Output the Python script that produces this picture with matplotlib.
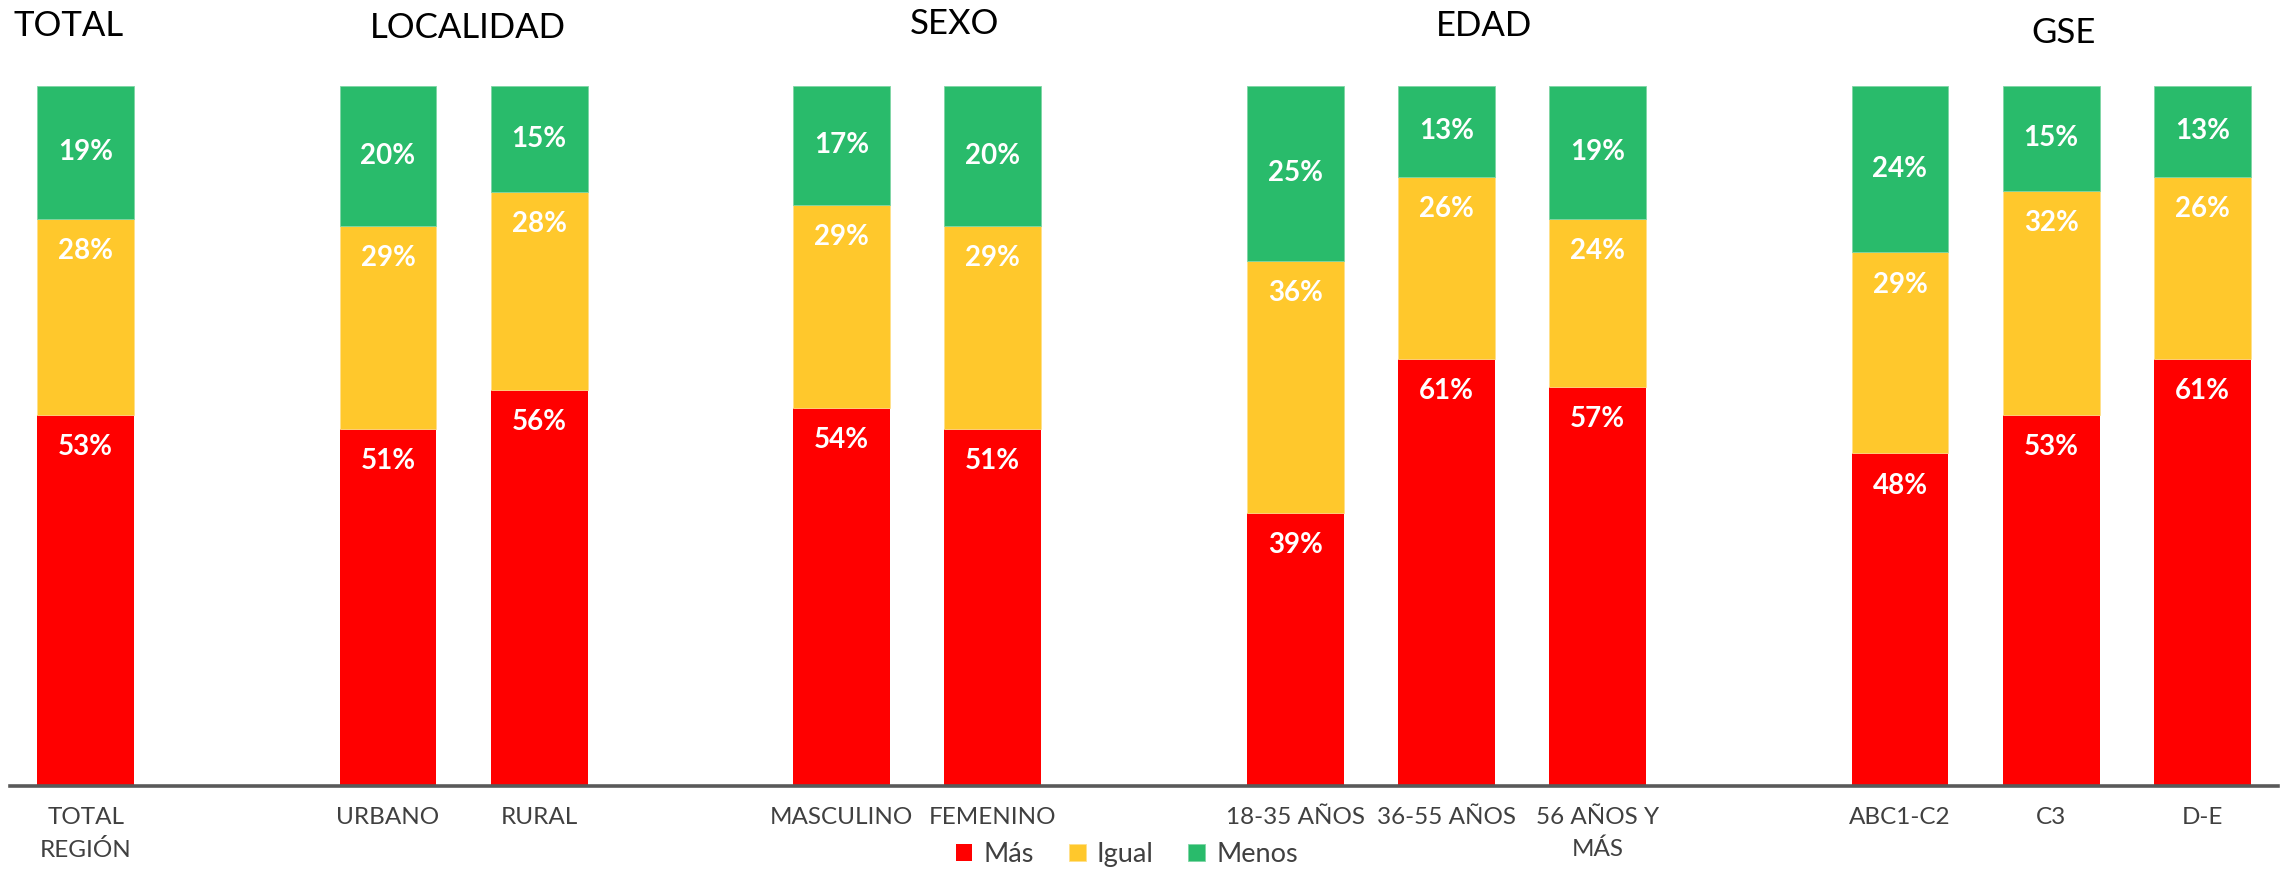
import matplotlib
matplotlib.use("Agg")
import matplotlib.pyplot as plt

plt.rcParams['font.family'] = ['Lato', 'DejaVu Sans']

# categories (None = empty slot between groups)
categories = ["TOTAL\nREGIÓN", None, "URBANO", "RURAL", None,
              "MASCULINO", "FEMENINO", None,
              "18-35 AÑOS", "36-55 AÑOS", "56 AÑOS Y\nMÁS", None,
              "ABC1-C2", "C3", "D-E"]
mas =   [53, None, 51, 56, None, 54, 51, None, 39, 61, 57, None, 48, 53, 61]
igual = [28, None, 29, 28, None, 29, 29, None, 36, 26, 24, None, 29, 32, 26]
menos = [19, None, 20, 15, None, 17, 20, None, 25, 13, 19, None, 24, 15, 13]

groups = ["TOTAL", "LOCALIDAD", "SEXO", "EDAD", "GSE"]
group_pos = [(0.030, 0.970), (0.205, 0.968), (0.418, 0.972), (0.650, 0.970), (0.904, 0.962)]

c_mas = "#FF0000"
c_igual = "#FFC82C"
c_menos = "#29BB6B"

fig = plt.figure(figsize=(22.83, 8.72), dpi=100)
ax = fig.add_axes([0.0044, 0.0986, 0.9934, 0.8028])

xs = [i for i, c in enumerate(categories) if c is not None]
# 100% stacked: heights as share of each bar's total
tot = [mas[i] + igual[i] + menos[i] for i in xs]
m = [mas[i] * 100 / t for i, t in zip(xs, tot)]
g = [igual[i] * 100 / t for i, t in zip(xs, tot)]
n = [menos[i] * 100 / t for i, t in zip(xs, tot)]
w = 0.64

b1 = ax.bar(xs, m, w, color=c_mas, label="Más")
b2 = ax.bar(xs, g, w, bottom=m, color=c_igual, label="Igual", edgecolor="#FFE08A", linewidth=0.6)
bot3 = [a + b for a, b in zip(m, g)]
b3 = ax.bar(xs, n, w, bottom=bot3, color=c_menos, label="Menos", edgecolor="#7FD6A5", linewidth=0.6)

lab = dict(ha="center", va="center", color="white", fontsize=20, fontweight="bold")
for i, x, a, b, c in zip(xs, xs, m, g, n):
    ax.text(x, a - 4.6, f"{mas[i]}%", **lab)
    ax.text(x, a + b - 4.6, f"{igual[i]}%", **lab)
    ax.text(x, a + b + c / 2, f"{menos[i]}%", **lab)

ax.set_xlim(-0.5, 14.5)
ax.set_ylim(0, 100)
ax.set_xticks(xs)
ax.set_xticklabels([categories[i] for i in xs], fontsize=17.5, color="#404040", linespacing=1.6)
ax.tick_params(axis="x", length=0, pad=15)
ax.set_yticks([])
for s in ["top", "right", "left"]:
    ax.spines[s].set_visible(False)
ax.spines["bottom"].set_color("#595959")
ax.spines["bottom"].set_linewidth(2.6)

for name, (x, y) in zip(groups, group_pos):
    fig.text(x, y, name, ha="center", va="center", fontsize=25, color="black")

fig.legend(handles=[b1, b2, b3], loc="center", bbox_to_anchor=(0.4935, 0.02), ncol=3,
           frameon=False, fontsize=19.5, handlelength=0.62, handleheight=0.62,
           handletextpad=0.4, columnspacing=1.3, labelcolor="#404040")

fig.savefig("out.png", dpi=100)
